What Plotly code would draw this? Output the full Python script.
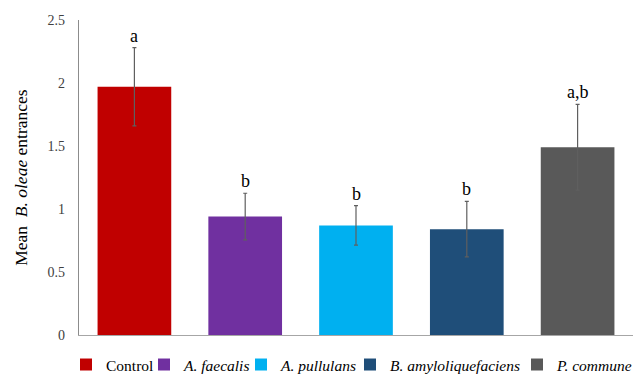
import plotly.graph_objects as go

# Treatments, mean entrances, standard errors and significance letters
categories = ["Control", "A. faecalis", "A. pullulans", "B. amyloliquefaciens", "P. commune"]
legend_names = ["Control", "<i>A. faecalis</i>", "<i>A. pullulans</i>",
                "<i>B. amyloliquefaciens</i>", "<i>P. commune</i>"]
means = [1.97, 0.94, 0.87, 0.84, 1.49]
errors = [0.31, 0.185, 0.157, 0.22, 0.34]
letters = ["a", "b", "b", "b", "a,b"]
colors = ["#C00000", "#7030A0", "#00B0F0", "#1F4E79", "#595959"]
y_ticks = [0, 0.5, 1, 1.5, 2, 2.5]
y_tick_text = ["0", "0.5", "1", "1.5", "2", "2.5"]

FONT = "Liberation Serif"
W, H = 638, 377

# left edge (px) of each legend entry along the bottom row
legend_left_px = [66, 144, 241, 350, 517]
legend_ids = ["legend", "legend2", "legend3", "legend4", "legend5"]

fig = go.Figure()
for cat, name, m, e, c, lid in zip(categories, legend_names, means, errors, colors, legend_ids):
    fig.add_trace(go.Bar(
        x=[cat], y=[m], name=name, legend=lid,
        marker=dict(color=c, line=dict(width=0)),
        width=0.665,
        error_y=dict(type="data", array=[e], visible=True,
                     color="#5f5f5f", thickness=1.2, width=2),
    ))

# significance letters above each error bar
for cat, m, e, lab in zip(categories, means, errors, letters):
    fig.add_annotation(x=cat, y=m + e, text=lab, showarrow=False,
                       yanchor="bottom", yshift=0,
                       font=dict(family=FONT, size=18, color="#000000"))

# rotated y-axis title
fig.add_annotation(xref="paper", yref="paper", x=-0.106, y=0.5,
                   text="Mean&nbsp;&nbsp;<i>B. oleae</i> entrances",
                   textangle=-90, showarrow=False,
                   xanchor="center", yanchor="middle",
                   font=dict(family=FONT, size=17.5, color="#000000"))

legend_style = dict(orientation="h", xref="container", yref="container",
                    xanchor="left", y=0.032, yanchor="middle",
                    font=dict(family=FONT, size=15.5, color="#000000"),
                    itemwidth=30, bgcolor="rgba(0,0,0,0)")
legends = {lid: dict(legend_style, x=px / W) for lid, px in zip(legend_ids, legend_left_px)}

fig.update_layout(
    width=W, height=H,
    margin=dict(l=79, r=5, t=20, b=37),
    paper_bgcolor="white", plot_bgcolor="white",
    barmode="overlay",
    font=dict(family=FONT, size=14, color="#000000"),
    showlegend=True,
    **legends,
    xaxis=dict(type="category", categoryorder="array", categoryarray=categories,
               range=[-0.5, 4.5], showticklabels=False, ticks="",
               showline=True, linecolor="#a6a6a6", linewidth=1.3,
               showgrid=False, zeroline=False, fixedrange=True),
    yaxis=dict(range=[0, 2.5], tickvals=y_ticks, ticktext=y_tick_text,
               showline=True, linecolor="#8c8c8c", linewidth=1.3,
               ticks="outside", ticklen=10, tickcolor="rgba(0,0,0,0)",
               showgrid=False, zeroline=False,
               tickfont=dict(family=FONT, size=14, color="#404040")),
)

fig.write_html("out.html")
